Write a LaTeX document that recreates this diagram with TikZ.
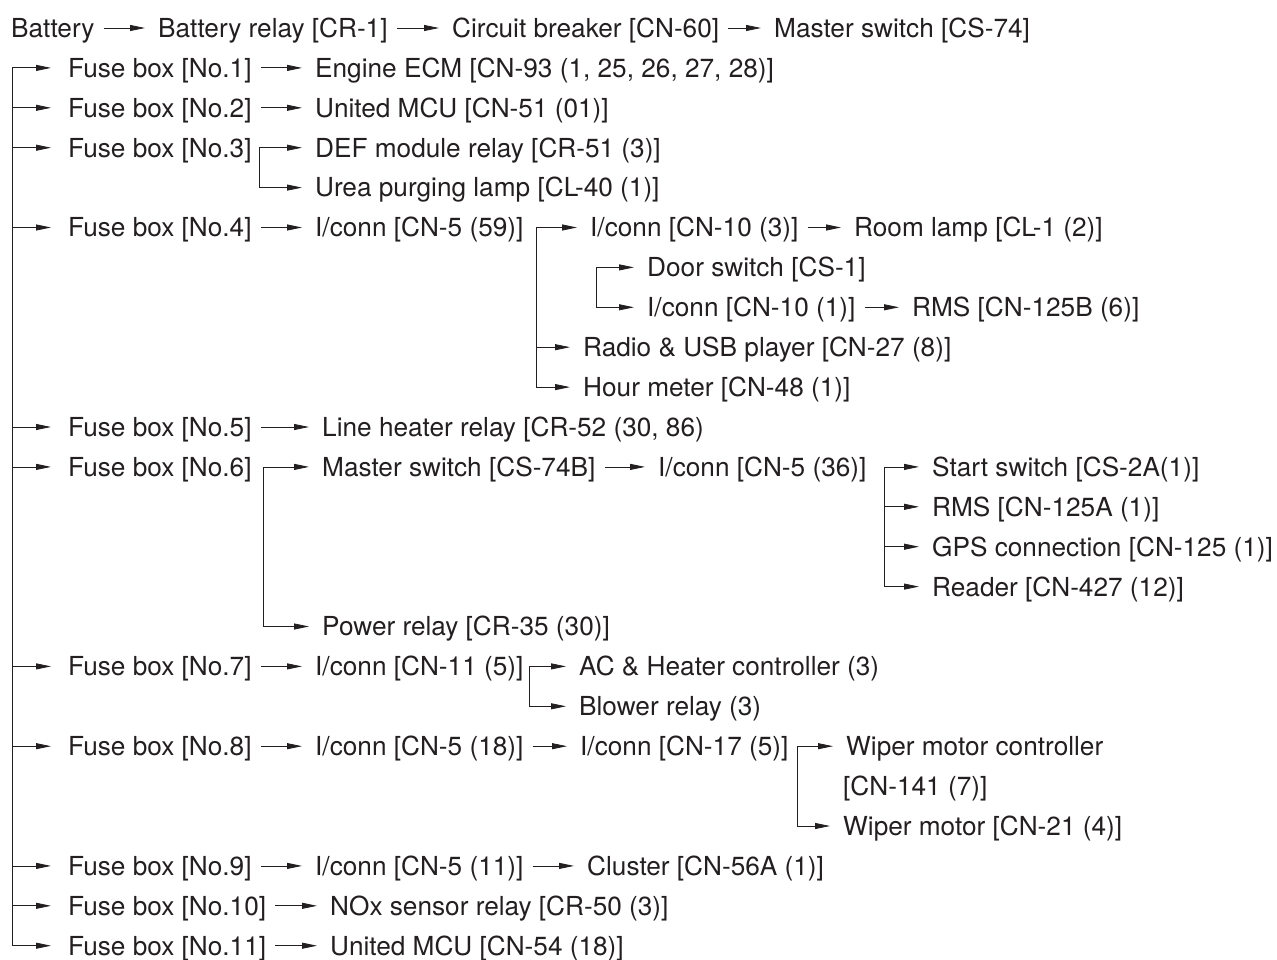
\documentclass[tikz,border=0pt]{standalone}
\usepackage{fontspec}
\setmainfont{TeX Gyre Heros}
\usetikzlibrary{arrows.meta}
\definecolor{ink}{HTML}{231F20}
\newcommand{\rw}[1]{28+39.9*#1}

\begin{document}
\begin{tikzpicture}[x=1pt,y=-1pt,
  lbl/.style={anchor=west,inner sep=0pt,text height=18.8pt,text depth=0pt,text=ink,font=\fontsize{26.2}{30}\selectfont},
  wire/.style={draw=ink,line width=0.8pt,-{Triangle[length=15pt,width=6pt]},shorten >=13pt},
  link/.style={wire,shorten <=9pt}]
\useasboundingbox (0,0) rectangle (1277,960);
% supply
\node[lbl] (bat) at (11,\rw{0}) {Battery};
\node[lbl] (bre) at (158,\rw{0}) {Battery relay [CR-1]};
\node[lbl] (cbr) at (452,\rw{0}) {Circuit breaker [CN-60]};
\node[lbl] (msw) at (774,\rw{0}) {Master switch [CS-74]};
% fuse boxes
\foreach \i/\r in {1/1,2/2,3/3,4/5,5/10,6/11,7/16,8/18,9/21,10/22,11/23}
  \node[lbl] (f\i) at (68,\rw{\r}) {Fuse box [No.\i]};
\node[lbl] (ecm) at (315,\rw{1}) {Engine ECM [CN-93 (1, 25, 26, 27, 28)]};
\node[lbl] (mcua) at (315,\rw{2}) {United MCU [CN-51 (01)]};
\node[lbl] (def) at (315,\rw{3}) {DEF module relay [CR-51 (3)]};
\node[lbl] (urea) at (315,\rw{4}) {Urea purging lamp [CL-40 (1)]};
\node[lbl] (ic59) at (315,\rw{5}) {I/conn [CN-5 (59)]};
\node[lbl] (icta) at (590,\rw{5}) {I/conn [CN-10 (3)]};
\node[lbl] (room) at (854,\rw{5}) {Room lamp [CL-1 (2)]};
\node[lbl] (door) at (647,\rw{6}) {Door switch [CS-1]};
\node[lbl] (ictb) at (647,\rw{7}) {I/conn [CN-10 (1)]};
\node[lbl] (rmsb) at (912,\rw{7}) {RMS [CN-125B (6)]};
\node[lbl] (radio) at (583,\rw{8}) {Radio \& USB player [CN-27 (8)]};
\node[lbl] (hour) at (583,\rw{9}) {Hour meter [CN-48 (1)]};
\node[lbl] (lhr) at (322,\rw{10}) {Line heater relay [CR-52 (30, 86)};
\node[lbl] (msb) at (322,\rw{11}) {Master switch [CS-74B]};
\node[lbl] (ic36) at (658,\rw{11}) {I/conn [CN-5 (36)]};
\node[lbl] (start) at (932,\rw{11}) {Start switch [CS-2A(1)]};
\node[lbl] (rmsa) at (932,\rw{12}) {RMS [CN-125A (1)]};
\node[lbl] (gps) at (932,\rw{13}) {GPS connection [CN-125 (1)]};
\node[lbl] (reader) at (932,\rw{14}) {Reader [CN-427 (12)]};
\node[lbl] (pwr) at (322,\rw{15}) {Power relay [CR-35 (30)]};
\node[lbl] (ic11) at (315,\rw{16}) {I/conn [CN-11 (5)]};
\node[lbl] (ac) at (579,\rw{16}) {AC \& Heater controller (3)};
\node[lbl] (blower) at (579,\rw{17}) {Blower relay (3)};
\node[lbl] (ic18) at (315,\rw{18}) {I/conn [CN-5 (18)]};
\node[lbl] (ic17) at (580,\rw{18}) {I/conn [CN-17 (5)]};
\node[lbl] (wmc) at (846,\rw{18}) {Wiper motor controller};
\node[lbl] (wmcn) at (843,\rw{19}) {[CN-141 (7)]};
\node[lbl] (wmot) at (843,\rw{20}) {Wiper motor [CN-21 (4)]};
\node[lbl] (ic9) at (315,\rw{21}) {I/conn [CN-5 (11)]};
\node[lbl] (clu) at (587,\rw{21}) {Cluster [CN-56A (1)]};
\node[lbl] (nox) at (330,\rw{22}) {NOx sensor relay [CR-50 (3)]};
\node[lbl] (mcub) at (330,\rw{23}) {United MCU [CN-54 (18)]};
% straight links
\foreach \a/\b in {bat/bre,bre/cbr,cbr/msw,f1/ecm,f2/mcua,f4/ic59,icta/room,ictb/rmsb,
  f5/lhr,msb/ic36,f7/ic11,f8/ic18,ic18/ic17,f9/ic9,ic9/clu,f10/nox,f11/mcub}
  \draw[link] (\a) -- (\b);
% bus and branch points
\coordinate (bus) at (12,\rw{1});
\foreach \i in {1,...,11} \draw[wire,shorten >=17pt] (bus) |- (f\i.west);
\coordinate (jdef) at (259,\rw{3});
\coordinate (jic) at (536,\rw{5});
\coordinate (jdoor) at (596,\rw{6});
\coordinate (jmsb) at (263,\rw{11});
\coordinate (jsw) at (884,\rw{11});
\coordinate (jac) at (529,\rw{16});
\coordinate (jwip) at (797,\rw{18});
\foreach \j/\t in {jdef/def,jdef/urea,jic/icta,jic/radio,jic/hour,jdoor/door,jdoor/ictb,
  jmsb/msb,jmsb/pwr,jsw/start,jsw/rmsa,jsw/gps,jsw/reader,jac/ac,jac/blower,jwip/wmc,jwip/wmot}
  \draw[wire] (\j) |- (\t.west);
\end{tikzpicture}
\end{document}
